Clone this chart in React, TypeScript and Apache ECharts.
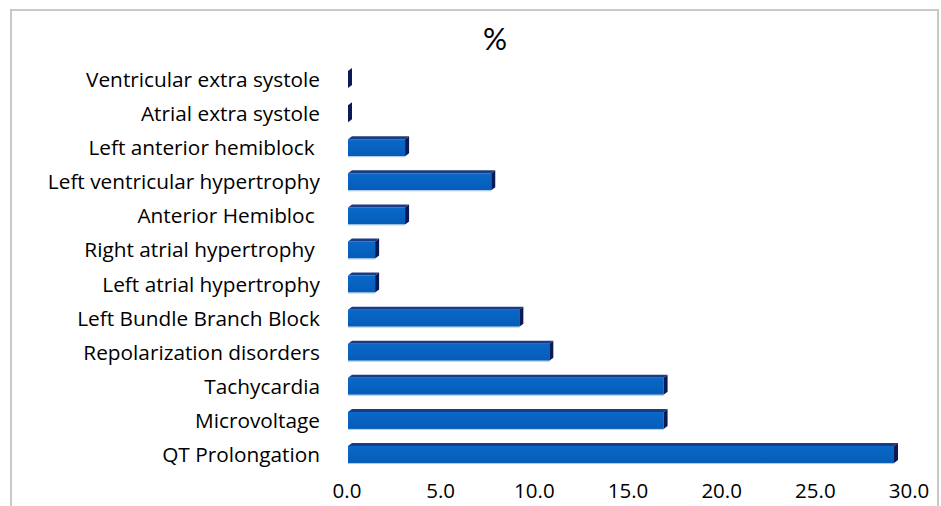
import React, { useEffect, useRef } from "react";
import * as echarts from "echarts";

const categories = [
  "QT Prolongation",
  "Microvoltage",
  "Tachycardia",
  "Repolarization disorders",
  "Left Bundle Branch Block",
  "Left atrial hypertrophy",
  "Right atrial hypertrophy ",
  "Anterior Hemibloc ",
  "Left ventricular hypertrophy",
  "Left anterior hemiblock ",
  "Atrial extra systole",
  "Ventricular extra systole",
];
const values = [29.2, 16.9, 16.9, 10.8, 9.2, 1.5, 1.5, 3.1, 7.7, 3.1, 0, 0];
const xTicks = { min: 0, max: 30, interval: 5 };
const title = "%";

export default function App() {
  const ref = useRef<HTMLDivElement>(null);
  useEffect(() => {
    if (!ref.current) return;
    const chart = echarts.init(ref.current, null, { renderer: "svg" });
    const font = "'Open Sans', 'Noto Sans', sans-serif";
    chart.setOption({
      animation: false,
      backgroundColor: "#ffffff",
      title: {
        text: title,
        left: 490,
        top: 18,
        textAlign: "center",
        textStyle: { fontFamily: "Lato, sans-serif", fontSize: 30, fontWeight: "normal", color: "#000" },
      },
      graphic: [
        {
          type: "rect",
          shape: { x: 11, y: 10, width: 927, height: 520 },
          style: { fill: "none", stroke: "#c8c8c8", lineWidth: 2 },
          silent: true,
        },
      ],
      grid: { left: 347, right: 32, top: 62, bottom: 35, containLabel: false },
      xAxis: {
        type: "value",
        min: xTicks.min,
        max: xTicks.max,
        interval: xTicks.interval,
        axisLine: { show: false },
        axisTick: { show: false },
        splitLine: { show: false },
        axisLabel: {
          formatter: (v: number) => v.toFixed(1),
          fontFamily: font,
          fontSize: 20.5,
          color: "#000",
          margin: 8,
        },
      },
      yAxis: {
        type: "category",
        data: categories,
        axisLine: { show: false },
        axisTick: { show: false },
        splitLine: { show: false },
        axisLabel: {
          fontFamily: font,
          fontSize: 20.8,
          color: "#000",
          margin: 27,
        },
      },
      series: [
        {
          type: "custom",
          data: values.map((v, i) => [v, i]),
          encode: { x: 0, y: 1 },
          renderItem: (params: any, api: any) => {
            const v = api.value(0);
            const i = api.value(1);
            const p0 = api.coord([0, i]);
            const p1 = api.coord([v, i]);
            const c = p0[1] - 1;
            const x0 = p0[0] + 1;
            const x1 = Math.max(p1[0], x0);
            const dx = 4;
            const dy = 3;
            const top = c - 7;
            const bot = c + 10;
            const children: any[] = [];
            if (x1 - x0 > 0.5) {
              children.push({
                type: "rect",
                shape: { x: x0, y: top, width: x1 - x0, height: bot - top },
                style: {
                  fill: new echarts.graphic.LinearGradient(0, 0, 0, 1, [
                    { offset: 0, color: "#0a68c8" },
                    { offset: 1, color: "#055cb8" },
                  ]),
                },
              });
              children.push({
                type: "line",
                shape: { x1: x0, y1: bot + 0.5, x2: x1, y2: bot + 0.5 },
                style: { stroke: "#a9c8ea", lineWidth: 1 },
              });
              children.push({
                type: "polygon",
                shape: {
                  points: [
                    [x0, top],
                    [x0 + dx, top - dy],
                    [x1 + dx, top - dy],
                    [x1, top],
                  ],
                },
                style: { fill: "#1b3c82" },
              });
            }
            children.push({
              type: "polygon",
              shape: {
                points: [
                  [x1, top],
                  [x1 + dx, top - dy],
                  [x1 + dx, bot - dy],
                  [x1, bot],
                ],
              },
              style: { fill: "#0b1a52" },
            });
            return { type: "group", children };
          },
        },
      ],
    });
    return () => chart.dispose();
  }, []);
  return (
    <div
      ref={ref}
      style={{ position: "fixed", left: 0, top: 0, width: 941, height: 506 }}
    />
  );
}
